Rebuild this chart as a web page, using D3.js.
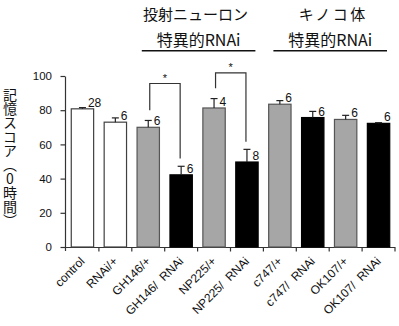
<!DOCTYPE html>
<html><head><meta charset="utf-8">
<script src="https://cdn.jsdelivr.net/npm/d3@7/dist/d3.min.js"></script>
<style>
html,body{margin:0;padding:0;background:#fff;}
svg{display:block;}
text{font-family:"Liberation Sans",Arial,sans-serif;}
.jp{font-family:"Noto Sans CJK JP","Noto Sans CJK SC",sans-serif;}
</style></head>
<body>
<script>
const categories = ["control","RNAi/+","GH146/+","GH146/\u00a0\u00a0RNAi","NP225/+","NP225/\u00a0\u00a0RNAi","c747/+","c747/\u00a0\u00a0RNAi","OK107/+","OK107/\u00a0\u00a0RNAi"];
const means = [80.8, 73.0, 70.0, 42.2, 81.3, 49.7, 83.5, 75.7, 74.6, 72.3];
const errors = [0.7, 2.5, 4.0, 5.0, 5.5, 7.4, 2.1, 3.6, 2.4, 0.4];
const nLabels = ["28","6","6","6","4","8","6","6","6","6"];
const groups = ["ctrl","ctrl","gal4","rnai","gal4","rnai","gal4","rnai","gal4","rnai"];
const yTicks = [0,20,40,60,80,100];
const sigPairs = [[2,3],[4,5]];
const sigTops = [95.6, 101.8];
const yTitle = "記憶スコア（0時間）";
const headerLine1 = ["投射ニューロン", "キノコ体"];
const headerLine2 = ["特異的RNAi", "特異的RNAi"];
const headerSpans = [[2,5],[6,9]];

const W=399, H=326;
const svg = d3.select("body").append("svg").attr("width",W).attr("height",H);

const x = d3.scaleBand().domain(categories).range([66,395]).paddingInner(0.32).paddingOuter(0.16);
const y = d3.scaleLinear().domain([0,100]).range([247,76]);
const step = x.step();
const fills = {ctrl:"#ffffff", gal4:"#a6a6a6", rnai:"#000000"};
const strokes = {ctrl:"#404040", gal4:"#555555", rnai:"#000000"};
const axisCol = "#333";

// y axis
const yAxis = svg.append("g").attr("transform","translate(65,0)")
  .call(d3.axisLeft(y).tickValues(yTicks).tickSize(4.5).tickSizeOuter(0).tickFormat(d3.format("d")));
yAxis.select(".domain").attr("stroke",axisCol).attr("stroke-width",1.2);
yAxis.selectAll(".tick line").attr("stroke",axisCol).attr("stroke-width",1.2);
yAxis.selectAll(".tick text").attr("font-size",11.5).attr("fill","#111").attr("x",-13);
svg.append("line").attr("x1",65.5).attr("x2",65.5).attr("y1",y(0)).attr("y2",y(0)+4).attr("stroke",axisCol).attr("stroke-width",1.2);

// x axis line + boundary ticks
const x0 = x.range()[0];
svg.append("line").attr("x1",65).attr("x2",x.range()[1]).attr("y1",y(0)+0.5).attr("y2",y(0)+0.5)
  .attr("stroke",axisCol).attr("stroke-width",1.2);
svg.append("g").selectAll("line").data(d3.range(1,categories.length+1)).join("line")
  .attr("x1",i=>x0+i*step).attr("x2",i=>x0+i*step)
  .attr("y1",y(0)).attr("y2",y(0)+4.5).attr("stroke",axisCol).attr("stroke-width",1.2);

// x labels
svg.append("g").selectAll("text").data(categories).join("text")
  .attr("transform",d=>`translate(${x(d)+x.bandwidth()/2+3},${y(0)+15}) rotate(-45)`)
  .attr("text-anchor","end").attr("font-size",12).attr("fill","#111")
  .text(d=>d);

// bars
svg.append("g").selectAll("rect").data(categories).join("rect")
  .attr("x",d=>x(d)).attr("width",x.bandwidth())
  .attr("y",(d,i)=>y(means[i])).attr("height",(d,i)=>y(0)-y(means[i]))
  .attr("fill",(d,i)=>fills[groups[i]]).attr("stroke",(d,i)=>strokes[groups[i]]).attr("stroke-width",1.2);

// error bars
const eb = svg.append("g").attr("stroke","#222").attr("stroke-width",1.2);
categories.forEach((c,i)=>{
  const cx = x(c)+x.bandwidth()/2;
  eb.append("line").attr("x1",cx).attr("x2",cx).attr("y1",y(means[i])).attr("y2",y(means[i]+errors[i]));
  eb.append("line").attr("x1",cx-3.5).attr("x2",cx+3.5).attr("y1",y(means[i]+errors[i])).attr("y2",y(means[i]+errors[i]));
});

// n labels
svg.append("g").selectAll("text").data(categories).join("text")
  .attr("x",d=>x(d)+x.bandwidth()/2+5.5).attr("y",(d,i)=>y(means[i])-2)
  .attr("font-size",12).attr("fill","#111").text((d,i)=>nLabels[i]);

// significance brackets
sigPairs.forEach((p,k)=>{
  const a = categories[p[0]], b = categories[p[1]];
  const xa = x(a)+x.bandwidth()/2+1.5, xb = x(b)+x.bandwidth()/2-1;
  const ya = y(means[p[0]]+errors[p[0]]+6), yb = y(means[p[1]]+errors[p[1]]+4.5);
  const yt = y(sigTops[k]);
  svg.append("path").attr("d",`M${xa},${ya}V${yt}H${xb}V${yb}`)
    .attr("fill","none").attr("stroke","#333").attr("stroke-width",1.2);
  svg.append("text").attr("x",(xa+xb)/2).attr("y",yt-1.5).attr("text-anchor","middle")
    .attr("font-size",11).attr("fill","#111").text("*");
});

// headers
headerSpans.forEach((s,k)=>{
  const xl = x0 + s[0]*step + 10, xr = x0 + (s[1]+1)*step - 8;
  const cx = (xl+xr)/2;
  const t1 = svg.append("text").attr("class","jp").attr("y",20).attr("text-anchor","middle")
    .attr("font-size",15).attr("fill","#111").text(headerLine1[k]);
  if (k===1) t1.attr("letter-spacing",2.5).attr("x",cx+3); else t1.attr("x",cx-3);
  svg.append("text").attr("class","jp").attr("x",cx).attr("y",46).attr("text-anchor","middle")
    .attr("font-size",16).attr("fill","#111").text(headerLine2[k]);
  svg.append("line").attr("x1",xl).attr("x2",xr).attr("y1",50.7).attr("y2",50.7)
    .attr("stroke","#111").attr("stroke-width",1.5);
});

// y title (vertical)
svg.append("text").attr("class","jp")
  .attr("x",10).attr("y",88)
  .style("writing-mode","vertical-rl")
  .style("text-orientation","upright")
  .attr("font-size",14).attr("fill","#111")
  .text(yTitle);
</script>
</body></html>
